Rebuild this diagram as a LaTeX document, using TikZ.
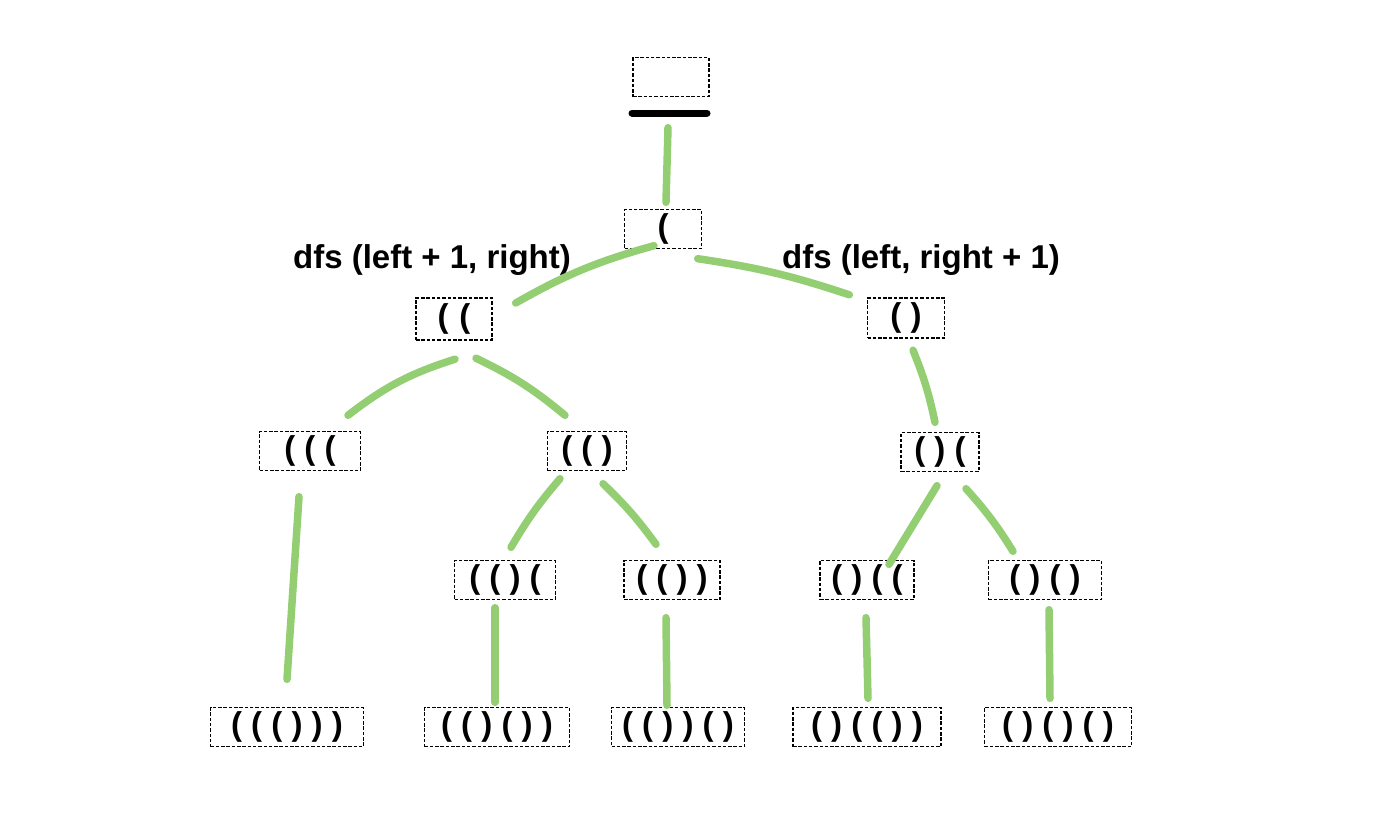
\documentclass[tikz,border=0pt]{standalone}
\usepackage{fontspec}
\setmainfont{Liberation Sans}
\definecolor{leafgreen}{RGB}{148,206,114}
\begin{document}
\begin{tikzpicture}[x=1pt,y=-1pt]
        \tikzset{state/.style = {draw,dashed,dash pattern=on 3.5pt off 1.8pt,line width=1.4pt,minimum height=39pt,inner sep=0pt,font=\fontsize{33}{38}\bfseries}}
        \tikzset{edge/.style = {leafgreen,line width=7.5pt,line cap=round}}
        \tikzset{call/.style = {font=\fontsize{33}{38}\bfseries}}
        \useasboundingbox (0,0) rectangle (1374,838);
        % root
        \node[state,minimum width=76pt] (top) at (671,77) {};
        \coordinate (barl) at (632,113);
        \coordinate (barr) at (707,113);
        \draw[line width=7pt,line cap=round] (barl) -- (barr);
        \node[state,minimum width=77pt] (r) at (663,229) {(};
        % second level
        \node[state,minimum width=76pt,minimum height=42pt] (l1) at (454,319) {(\,\,(};
        \node[state,minimum width=77pt,minimum height=40pt] (r1) at (906,318) {( )};
        \node[call] (dfsl) at (432,260) {dfs (left + 1, right)};
        \node[call] (dfsr) at (921,260) {dfs (left, right + 1)};
        % third level
        \node[state,minimum width=101pt] (l2) at (310,451) {( ( (};
        \node[state,minimum width=79pt] (m2) at (587,451) {( ( )};
        \node[state,minimum width=78pt] (r2) at (940,452) {( ) (};
        % fourth level
        \node[state,minimum width=101pt] (a3) at (505,580) {( ( ) (};
        \node[state,minimum width=96pt] (b3) at (672,580) {( ( ) )};
        \node[state,minimum width=94pt] (c3) at (867,580) {( ) ( (};
        \node[state,minimum width=113pt] (d3) at (1045,580) {( ) ( )};
        % leaves
        \node[state,minimum width=153pt] (e4) at (287,727) {( ( ( ) ) )};
        \node[state,minimum width=145pt] (f4) at (497,727) {( ( ) ( ) )};
        \node[state,minimum width=133pt] (g4) at (678,727) {( ( ) ) ( )};
        \node[state,minimum width=148pt] (h4) at (867,727) {( ) ( ( ) )};
        \node[state,minimum width=147pt] (i4) at (1058,727) {( ) ( ) ( )};
        % edges
        \draw[edge] ([xshift=-3pt,yshift=-30.5pt]top.south) to ([xshift=3pt,yshift=6.5pt]r.north);
        \draw[edge] ([xshift=-9pt,yshift=3.5pt]r.south) to[bend right=7] ([xshift=23pt,yshift=16pt]l1.east);
        \draw[edge] ([xshift=-4.5pt,yshift=-9.5pt]r.south east) to[bend left=5] ([xshift=-17.5pt,yshift=2.5pt]r1.north west);
        \draw[edge] ([xshift=1pt,yshift=-18.5pt]l1.south) to[bend right=10] ([xshift=38pt,yshift=15.5pt]l2.north);
        \draw[edge] ([xshift=22pt,yshift=-17.5pt]l1.south) to[bend left=7] ([xshift=-22pt,yshift=15.5pt]m2.north);
        \draw[edge] ([xshift=7pt,yshift=-11.5pt]r1.south) to[bend left=5] ([xshift=-5pt,yshift=9.5pt]r2.north);
        \draw[edge] ([xshift=-11pt,yshift=-25.5pt]l2.south) to ([yshift=27.5pt]e4.north);
        \draw[edge] ([xshift=-27pt,yshift=-7.5pt]m2.south) to[bend right=5] ([xshift=6pt,yshift=12.5pt]a3.north);
        \draw[edge] ([xshift=16pt,yshift=-12.5pt]m2.south) to[bend left=5] ([xshift=-16pt,yshift=15.5pt]b3.north);
        \draw[edge] ([xshift=-3pt,yshift=-13.5pt]r2.south) to ([xshift=22pt,yshift=-4.5pt]c3.north);
        \draw[edge] ([xshift=26pt,yshift=-16.5pt]r2.south) to[bend left=5] ([xshift=-32pt,yshift=8.5pt]d3.north);
        \draw[edge] ([xshift=-10pt,yshift=-7.5pt]a3.south) to ([xshift=-2pt,yshift=4.5pt]f4.north);
        \draw[edge] ([xshift=-6pt,yshift=-17.5pt]b3.south) to ([xshift=-11pt,yshift=1.5pt]g4.north);
        \draw[edge] ([xshift=-1pt,yshift=-17.5pt]c3.south) to ([xshift=1pt,yshift=8.5pt]h4.north);
        \draw[edge] ([xshift=4pt,yshift=-9.5pt]d3.south) to ([xshift=-8pt,yshift=8.5pt]i4.north);
\end{tikzpicture}
\end{document}
